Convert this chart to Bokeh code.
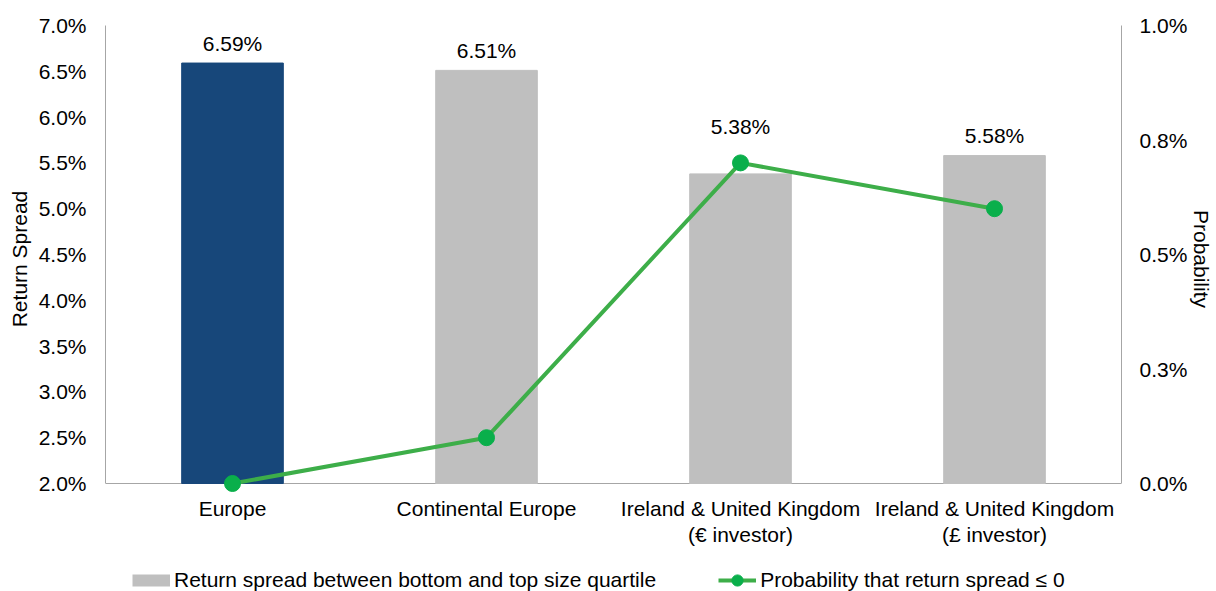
from bokeh.plotting import figure
from bokeh.layouts import column
from bokeh.models import (ColumnDataSource, FactorRange, Range1d, LinearAxis, FixedTicker,
                          PrintfTickFormatter, LabelSet, Legend, LegendItem, Span)
from bokeh.core.properties import value
from bokeh.embed import file_html
from bokeh.resources import INLINE

categories = ["Europe", "Continental Europe",
              "Ireland & United Kingdom\n(€ investor)",
              "Ireland & United Kingdom\n(£ investor)"]
spread = [6.59, 6.51, 5.38, 5.58]
probability = [0.0, 0.10, 0.70, 0.60]
bar_colors = ["#17477A", "#BFBFBF", "#BFBFBF", "#BFBFBF"]
left_ticks = [2.0, 2.5, 3.0, 3.5, 4.0, 4.5, 5.0, 5.5, 6.0, 6.5, 7.0]
right_ticks = [0.0, 0.25, 0.5, 0.75, 1.0]
right_labels = ["0.0%", "0.3%", "0.5%", "0.8%", "1.0%"]
bar_name = "Return spread between bottom and top size quartile"
line_name = "Probability that return spread \u2264 0"

# label placement (pixels above bar top) - styling only
label_offsets = [20, 20, 47, 20]

FONT = "Liberation Sans"
FS = "21px"
AXIS_GRAY = "#A6A6A6"
BAR_GRAY = "#BFBFBF"
LINE_GREEN = "#3DAE49"
MARK_GREEN = "#0AAF4B"

L_MIN, L_MAX = 2.0, 7.0
R_MIN, R_MAX = 0.0, 1.0
FRAME_H = 458          # pixel height between 2.0% and 7.0%
PAD_PX = 9             # room under the axis so markers on it are not clipped
l_pad = (L_MAX - L_MIN) * PAD_PX / FRAME_H
r_pad = (R_MAX - R_MIN) * PAD_PX / FRAME_H

src = ColumnDataSource(dict(
    cat=categories, spread=spread, prob=probability, color=bar_colors,
    label=[f"{v:.2f}%" for v in spread], yoff=label_offsets,
))

p = figure(x_range=FactorRange(*categories), y_range=Range1d(L_MIN - l_pad, L_MAX),
           width=1216, height=555, output_backend="svg", toolbar_location=None,
           min_border_left=105, min_border_right=95, min_border_top=25,
           min_border_bottom=555 - 483 - PAD_PX)
p.extra_y_ranges = {"prob": Range1d(R_MIN - r_pad, R_MAX)}
p.outline_line_color = None
p.xgrid.grid_line_color = None
p.ygrid.grid_line_color = None
p.background_fill_color = "white"
p.border_fill_color = "white"

# baseline of the category axis at 2.0%
p.add_layout(Span(location=L_MIN, dimension="width", line_color=AXIS_GRAY,
                  line_width=1, level="underlay"))

bars = p.vbar(x="cat", top="spread", bottom=L_MIN, width=0.4, color="color", source=src)

line = p.line(x="cat", y="prob", source=src, y_range_name="prob",
              line_color=LINE_GREEN, line_width=4)
pts = p.scatter(x="cat", y="prob", source=src, y_range_name="prob",
                size=16, fill_color=MARK_GREEN, line_color=MARK_GREEN)

labels = LabelSet(x="cat", y="spread", text="label", source=src, y_offset="yoff",
                  text_align="center", text_baseline="middle",
                  text_font=value(FONT), text_font_size=value(FS), text_color="#000000")
p.add_layout(labels)

# left axis
ya = p.yaxis[0]
ya.ticker = FixedTicker(ticks=left_ticks)
ya.formatter = PrintfTickFormatter(format="%.1f%%")
ya.axis_label = "Return Spread"
ya.bounds = (L_MIN, L_MAX)

# right axis
ra = LinearAxis(y_range_name="prob", ticker=FixedTicker(ticks=right_ticks),
                major_label_overrides={t: l for t, l in zip(right_ticks, right_labels)},
                axis_label="Probability", bounds=(R_MIN, R_MAX))
p.add_layout(ra, "right")

for ax in [ya, ra]:
    ax.axis_line_color = AXIS_GRAY
    ax.major_tick_line_color = None
    ax.minor_tick_line_color = None
    ax.major_tick_out = 0
    ax.major_tick_in = 0
    ax.major_label_text_font = FONT
    ax.major_label_text_font_size = FS
    ax.major_label_text_color = "#000000"
    ax.axis_label_text_font = FONT
    ax.axis_label_text_font_size = FS
    ax.axis_label_text_font_style = "normal"
    ax.axis_label_text_color = "#000000"
ya.major_label_standoff = 19
ya.axis_label_standoff = 5
ra.major_label_standoff = 18
ra.axis_label_standoff = 0

xa = p.xaxis[0]
xa.axis_line_color = None
xa.major_tick_line_color = None
xa.minor_tick_line_color = None
xa.major_tick_out = 0
xa.major_tick_in = 0
xa.major_label_standoff = 13 - PAD_PX
xa.major_label_text_font = FONT
xa.major_label_text_font_size = FS
xa.major_label_text_color = "#000000"
xa.major_label_text_line_height = 1.15
xa.major_label_orientation = "horizontal"

# legend strip below the chart (its glyphs share the data but lie outside its view)
lg = figure(width=1216, height=36, output_backend="svg", toolbar_location=None,
            x_axis_type=None, y_axis_type=None, min_border=0,
            x_range=FactorRange(*categories), y_range=Range1d(100, 101))
lg.outline_line_color = None
lg.xgrid.grid_line_color = None
lg.ygrid.grid_line_color = None
lg.background_fill_color = "white"
lg.border_fill_color = "white"
lg_bar = lg.line(x="cat", y="spread", source=src, line_color=BAR_GRAY, line_width=12)
lg_line = lg.line(x="cat", y="prob", source=src, line_color=LINE_GREEN, line_width=4)
lg_pts = lg.scatter(x="cat", y="prob", source=src, size=16,
                    fill_color=MARK_GREEN, line_color=MARK_GREEN)

legend = Legend(items=[LegendItem(label=bar_name, renderers=[lg_bar]),
                       LegendItem(label=line_name, renderers=[lg_line, lg_pts])],
                orientation="horizontal", location=(27, -3), padding=0, margin=0,
                spacing=62, border_line_color=None, background_fill_alpha=0,
                label_text_font=FONT, label_text_font_size=FS, label_text_color="#000000",
                label_standoff=4, glyph_width=38, glyph_height=28, label_height=21)
lg.add_layout(legend)

layout = column(p, lg, spacing=0)
open("out.html", "w").write(file_html(layout, INLINE))
